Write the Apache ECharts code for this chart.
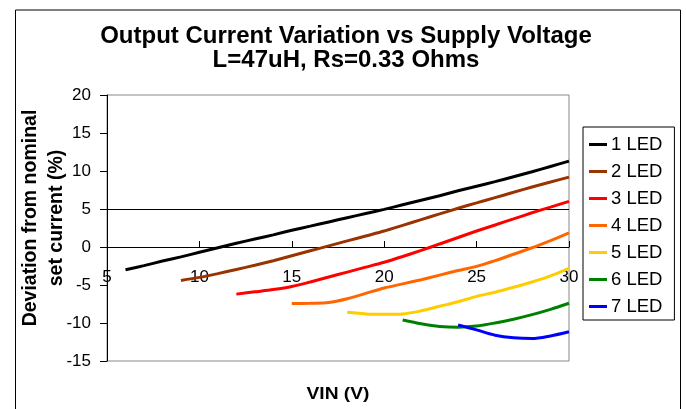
<!DOCTYPE html>
<html><head><meta charset="utf-8">
<script src="https://cdn.jsdelivr.net/npm/echarts@6/dist/echarts.min.js"></script>
<style>html,body{margin:0;padding:0;background:#fff}#c{width:686px;height:409px}</style>
</head><body><div id="c"></div>
<script>
const titleText = 'Output Current Variation vs Supply Voltage';
const subtitleText = 'L=47uH, Rs=0.33 Ohms';
const xTitle = 'VIN (V)';
const yTitle = 'Deviation from nominal\nset current (%)';
const seriesNames = ['1 LED','2 LED','3 LED','4 LED','5 LED','6 LED','7 LED'];
const seriesColors = ['#000000','#993300','#FF0000','#FF6600','#FFCC00','#008000','#0000FF'];
const xTicks = [5,10,15,20,25,30];
const gridLineValue = 5;

const vin1 = [6,7,8,9,10,11,12,13,14,15,16,17,18,19,20,21,22,23,24,25,26,27,28,29,30];
const dev1 = [-3.0,-2.45,-1.85,-1.3,-0.7,-0.1,0.5,1.05,1.6,2.2,2.75,3.3,3.85,4.4,4.95,5.55,6.15,6.75,7.4,8.0,8.6,9.25,9.9,10.6,11.3];
const vin2 = [9,10,11,12,13,14,15,16,17,18,19,20,21,22,23,24,25,26,27,28,29,30];
const dev2 = [-4.4,-4.0,-3.5,-2.95,-2.4,-1.8,-1.15,-0.5,0.15,0.8,1.45,2.1,2.85,3.6,4.35,5.1,5.8,6.5,7.2,7.9,8.55,9.2];
const vin3 = [12,13,14,15,16,17,18,19,20,21,22,23,24,25,26,27,28,29,30];
const dev3 = [-6.2,-5.9,-5.6,-5.2,-4.6,-3.95,-3.3,-2.65,-2.0,-1.25,-0.45,0.4,1.25,2.1,2.9,3.7,4.5,5.25,6.0];
const vin4 = [15,16,17,18,19,20,21,22,23,24,25,26,27,28,29,30];
const dev4 = [-7.45,-7.4,-7.3,-6.8,-6.1,-5.4,-4.85,-4.3,-3.7,-3.1,-2.55,-1.8,-0.95,-0.1,0.85,1.85];
const vin5 = [18,19,20,21,22,23,24,25,26,27,28,29,30];
const dev5 = [-8.6,-8.8,-8.85,-8.8,-8.4,-7.8,-7.2,-6.5,-5.95,-5.3,-4.6,-3.8,-2.8];
const vin6 = [21,22,23,24,25,26,27,28,29,30];
const dev6 = [-9.6,-10.1,-10.45,-10.55,-10.4,-10.0,-9.5,-8.9,-8.2,-7.4];
const vin7 = [24,25,26,27,28,29,30];
const dev7 = [-10.25,-10.9,-11.6,-11.95,-12.05,-11.7,-11.15];

const xs = [vin1,vin2,vin3,vin4,vin5,vin6,vin7];
const ys = [dev1,dev2,dev3,dev4,dev5,dev6,dev7];
const FONT = '"Liberation Sans", Arial, sans-serif';

const series = seriesNames.map((name,i)=>{
  const s = {
    name, type:'line', smooth:0.3, showSymbol:false, symbol:'none',
    data: xs[i].map((x,j)=>[x, ys[i][j]]),
    lineStyle:{color:seriesColors[i], width:3},
    itemStyle:{color:seriesColors[i]},
    z: 3 + i
  };
  if (i===0) {
    s.markLine = {silent:true, symbol:'none', label:{show:false},
      lineStyle:{color:'#000', width:1, type:'solid'},
      data:[{yAxis:gridLineValue}], z:1};
  }
  return s;
});

const chart = echarts.init(document.getElementById('c'), null, {renderer:'canvas'});
const baseGraphic = [
  {type:'rect', left:13, top:7.5, shape:{width:665, height:430}, style:{fill:null, stroke:'#000', lineWidth:1}, silent:true, z:-10},
  {type:'text', x:346, y:36, style:{text:titleText, font:'bold 24px '+FONT, fill:'#000', align:'center', verticalAlign:'middle'}},
  {type:'text', x:346, y:60, style:{text:subtitleText, font:'bold 24px '+FONT, fill:'#000', align:'center', verticalAlign:'middle'}},
  {type:'text', x:44, y:218, rotation:Math.PI/2, style:{text:yTitle, font:'bold 19.5px '+FONT, fill:'#000', align:'center', verticalAlign:'middle', lineHeight:26}},
  {type:'text', x:338, y:395, scaleX:1.2, style:{text:xTitle, font:'bold 16px '+FONT, fill:'#000', align:'center', verticalAlign:'middle'}}
];
chart.setOption({
  animation:false,
  backgroundColor:'#fff',
  textStyle:{fontFamily:FONT},
  grid:{left:107, right:117, top:95, bottom:48, show:true, borderColor:'#888', borderWidth:1, containLabel:false, outerBoundsMode:'none'},
  legend:{orient:'vertical', left:583, top:127, padding:[8,12,4,6], itemGap:8,
    itemWidth:18, itemHeight:3, icon:'rect', borderColor:'#000', borderWidth:1,
    data:seriesNames,
    textStyle:{fontFamily:FONT, fontSize:18.5, lineHeight:18.4, color:'#000', padding:[0,0,0,-1]}},
  xAxis:{type:'value', min:5, max:30, interval:5,
    axisLine:{onZero:true, lineStyle:{color:'#000', width:1}},
    axisTick:{inside:true, length:6, lineStyle:{color:'#000'}},
    axisLabel:{show:false},
    splitLine:{show:false}},
  yAxis:{type:'value', min:-15, max:20, interval:5,
    axisLine:{show:true, onZero:false, lineStyle:{color:'#000', width:1}},
    axisTick:{show:true, inside:false, length:7, lineStyle:{color:'#000'}},
    axisLabel:{fontFamily:FONT, fontSize:17, color:'#000', margin:16},
    splitLine:{show:false}},
  graphic: baseGraphic,
  series
});
// x tick labels sit just below the y=0 axis line, positioned by the library's scales
const xLabelGraphics = xTicks.map(v=>{
  const p = chart.convertToPixel({gridIndex:0}, [v, 0]);
  return {type:'text', x:p[0], y:p[1]+30, style:{text:String(v), font:'17px '+FONT, fill:'#000', align:'center', verticalAlign:'middle'}};
});
chart.setOption({graphic: baseGraphic.concat(xLabelGraphics)});
</script></body></html>
